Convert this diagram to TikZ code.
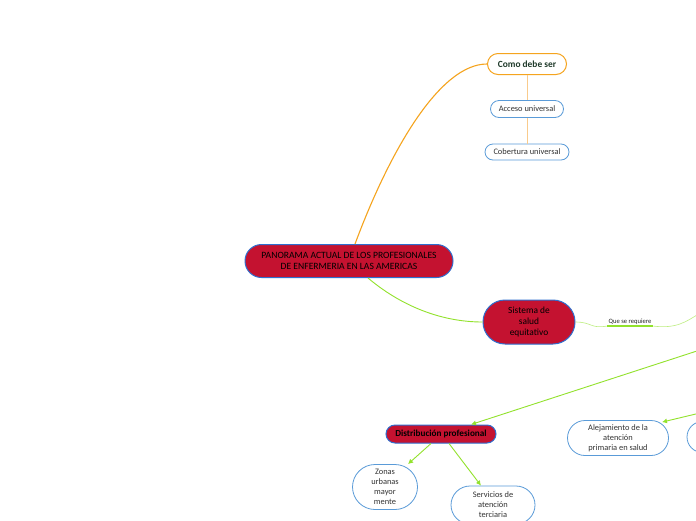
\documentclass[tikz,border=0pt]{standalone}
\usepackage{fontspec}
\setmainfont{Carlito}
\usetikzlibrary{shapes.misc,arrows.meta}
\definecolor{crimson}{HTML}{C41230}
\definecolor{rimblue}{HTML}{2F6FCF}
\definecolor{leafblue}{HTML}{5A9BD8}
\definecolor{lime}{HTML}{92E22C}
\definecolor{amber}{HTML}{F5A41E}
\definecolor{paleamber}{HTML}{F9CB8C}
\definecolor{ink}{HTML}{1F3A2A}
\tikzset{
  topic/.style={rounded rectangle,draw=rimblue,line width=1pt,fill=crimson,align=center,inner sep=2pt,text=black},
  leaf/.style={rounded rectangle,draw=leafblue,line width=0.8pt,fill=white,align=center,inner sep=2pt,text=black!80,font=\fontsize{8.4}{10}\selectfont},
  branch/.style={draw=lime,line width=0.9pt},
  tip/.style={-{Latex[length=5pt,width=5pt]}}
}

\begin{document}
\begin{tikzpicture}[x=1pt,y=-1pt]
\clip (0,0) rectangle (696,520);
\fill[white] (0,0) rectangle (696,520);
\node[topic,minimum width=212pt,minimum height=33pt,font=\fontsize{9.6}{11}\selectfont] (panorama) at (349,261) {PANORAMA ACTUAL DE LOS PROFESIONALES\\DE ENFERMERIA EN LAS AMERICAS};
\node[leaf,draw=amber,line width=1pt,minimum width=83pt,minimum height=21pt,text=ink,font=\bfseries\fontsize{9.4}{10}\selectfont] (deber) at (527,64) {Como debe ser};
\node[leaf,minimum width=77pt,minimum height=17pt] (acceso) at (527,109) {Acceso universal};
\node[leaf,minimum width=88pt,minimum height=16pt] (cobertura) at (527,152) {Cobertura universal};
\node[topic,minimum width=96pt,minimum height=44pt,font=\fontsize{9.4}{11}\selectfont] (sistema) at (529,322) {Sistema de\\salud\\equitativo};
\node[inner sep=1pt,font=\fontsize{6.6}{7}\selectfont,text=black!85] (requiere) at (630,322) {Que se requiere};
\node[topic,minimum width=114pt,minimum height=18pt,font=\bfseries\fontsize{9.2}{10}\selectfont] (distribucion) at (441,434) {Distribución profesional};
\node[leaf,minimum width=69pt,minimum height=45pt] (zonas) at (385,487) {Zonas\\urbanas\\mayor\\mente};
\node[leaf,minimum width=88pt,minimum height=38pt] (servicios) at (493,505) {Servicios de\\atención\\terciaria};
\node[leaf,minimum width=105pt,minimum height=35pt] (alejamiento) at (618,438) {Alejamiento de la\\atención\\primaria en salud};
\node[leaf,minimum width=80pt,minimum height=31pt] (siguiente) at (725,437) {};
\coordinate (haciaderecha) at (700,313);
\coordinate (nodoA) at (700,350);
\coordinate (nodoB) at (700,413);

\draw[amber,line width=1.1pt] ([xshift=6pt]panorama.north) .. controls (390,150) and (440,64) .. (deber.west);
\draw[paleamber,line width=0.8pt] (deber.south) -- (acceso.north) (acceso.south) -- (cobertura.north);
\draw[branch] ([xshift=19pt]panorama.south) .. controls (400,305) and (440,322) .. (sistema.west);
\draw[lime!60,line width=0.6pt] (sistema.east) .. controls (592,322) and (590,329) .. (requiere.south west) -- (requiere.south east) .. controls (676,329) and (686,322) .. (haciaderecha);
\draw[lime,line width=1.6pt] (requiere.south west) -- (requiere.south east);
\draw[branch,tip] (nodoA) -- ([xshift=30pt]distribucion.north);
\draw[branch,tip] (nodoB) -- ([xshift=44pt,yshift=-2pt]alejamiento.north);
\draw[branch,tip] ([xshift=-10pt]distribucion.south) -- ([xshift=23pt]zonas.north);
\draw[branch,tip] ([xshift=8pt]distribucion.south) -- ([xshift=-12pt]servicios.north);
\end{tikzpicture}
\end{document}
